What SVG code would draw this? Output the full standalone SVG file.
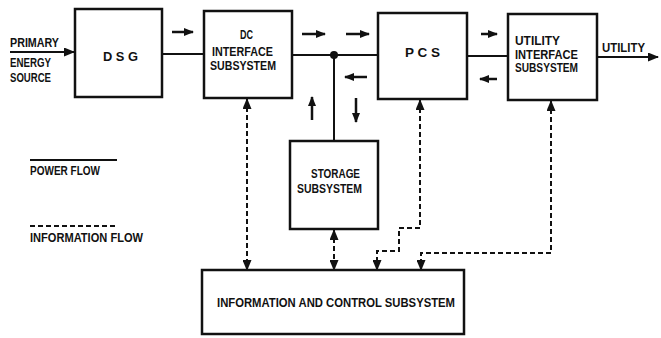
<svg xmlns="http://www.w3.org/2000/svg" width="661" height="338" viewBox="0 0 661 338">
<style>
.box{fill:#fff;stroke:#111;stroke-width:2.5}
.pw{fill:none;stroke:#111;stroke-width:2}
.sa{fill:none;stroke:#111;stroke-width:2.5}
.inf{fill:none;stroke:#111;stroke-width:2;stroke-dasharray:5 3}
text{font-family:"Liberation Sans",Arial,sans-serif;font-weight:bold;font-size:13.5px;fill:#111}
.sm{font-size:12.5px}
</style>
<defs>
<marker id="ah" markerUnits="userSpaceOnUse" markerWidth="11" markerHeight="9" refX="10" refY="4.5" orient="auto-start-reverse" viewBox="0 0 11 9">
<path d="M0,0 L11,4.5 L0,9 z" fill="#111"/>
</marker>
<marker id="sh" markerUnits="userSpaceOnUse" markerWidth="10" markerHeight="8" refX="9" refY="4" orient="auto" viewBox="0 0 10 8">
<path d="M0,0 L10,4 L0,8 z" fill="#111"/>
</marker>
</defs>
<rect width="661" height="338" fill="#fff"/>

<g id="connectors">
<line class="pw" x1="10" y1="52" x2="74" y2="52" marker-end="url(#ah)"/>
<line class="pw" x1="162" y1="54" x2="204" y2="54"/>
<line class="pw" x1="292" y1="55" x2="378" y2="55"/>
<line class="pw" x1="334" y1="55" x2="334" y2="141"/>
<circle cx="334" cy="55" r="4" fill="#111"/>
<line class="pw" x1="467" y1="56" x2="508" y2="56"/>
<line class="pw" x1="597" y1="57" x2="658" y2="57" marker-end="url(#ah)"/>

<line class="sa" x1="172" y1="32" x2="193" y2="32" marker-end="url(#sh)"/>
<line class="sa" x1="302" y1="34" x2="325" y2="34" marker-end="url(#sh)"/>
<line class="sa" x1="346" y1="34" x2="369" y2="34" marker-end="url(#sh)"/>
<line class="sa" x1="367" y1="77" x2="345" y2="77" marker-end="url(#sh)"/>
<line class="sa" x1="312" y1="120" x2="312" y2="97" marker-end="url(#sh)"/>
<line class="sa" x1="356" y1="98" x2="356" y2="122" marker-end="url(#sh)"/>
<line class="sa" x1="481" y1="34" x2="497" y2="34" marker-end="url(#sh)"/>
<line class="sa" x1="497" y1="79" x2="480" y2="79" marker-end="url(#sh)"/>

<line class="inf" x1="247" y1="99" x2="247" y2="270" marker-start="url(#ah)" marker-end="url(#ah)"/>
<line class="inf" x1="334" y1="230" x2="334" y2="270" marker-start="url(#ah)" marker-end="url(#ah)"/>
<path class="inf" d="M420,100 V228 H399 V251 H377 V270" marker-start="url(#ah)" marker-end="url(#ah)"/>
<path class="inf" d="M551,101 V253 H421 V270" marker-start="url(#ah)" marker-end="url(#ah)"/>
</g>

<g id="input-label">
<text x="10" y="47" textLength="49" lengthAdjust="spacingAndGlyphs">PRIMARY</text>
<text x="10" y="67" textLength="41" lengthAdjust="spacingAndGlyphs">ENERGY</text>
<text x="10" y="81.5" textLength="41" lengthAdjust="spacingAndGlyphs">SOURCE</text>
</g>

<g id="dsg">
<rect class="box" x="75" y="9" width="87" height="88"/>
<text class="sm" x="103" y="61" textLength="35" lengthAdjust="spacingAndGlyphs">D S G</text>
</g>

<g id="dc-interface">
<rect class="box" x="204" y="11" width="88" height="87"/>
<text x="240" y="38.5" textLength="13" lengthAdjust="spacingAndGlyphs">DC</text>
<text x="212" y="56" textLength="61" lengthAdjust="spacingAndGlyphs">INTERFACE</text>
<text x="210" y="70" textLength="66" lengthAdjust="spacingAndGlyphs">SUBSYSTEM</text>
</g>

<g id="pcs">
<rect class="box" x="378" y="13" width="89" height="86"/>
<text class="sm" x="405" y="57" textLength="35" lengthAdjust="spacingAndGlyphs">P C S</text>
</g>

<g id="utility-interface">
<rect class="box" x="508" y="14" width="89" height="86"/>
<text x="515" y="45" textLength="45" lengthAdjust="spacingAndGlyphs">UTILITY</text>
<text x="515" y="58.5" textLength="63" lengthAdjust="spacingAndGlyphs">INTERFACE</text>
<text x="515" y="72" textLength="63" lengthAdjust="spacingAndGlyphs">SUBSYSTEM</text>
</g>

<g id="utility-label">
<text x="602" y="52" textLength="43" lengthAdjust="spacingAndGlyphs">UTILITY</text>
</g>

<g id="storage">
<rect class="box" x="290" y="141" width="88" height="88"/>
<text x="311" y="178" textLength="49" lengthAdjust="spacingAndGlyphs">STORAGE</text>
<text x="297" y="193" textLength="65" lengthAdjust="spacingAndGlyphs">SUBSYSTEM</text>
</g>

<g id="info-control">
<rect class="box" x="202" y="270" width="262" height="64"/>
<text x="217" y="307" textLength="238" lengthAdjust="spacingAndGlyphs">INFORMATION AND CONTROL SUBSYSTEM</text>
</g>

<g id="legend">
<line class="pw" x1="30" y1="160" x2="117" y2="160"/>
<text x="30" y="175" textLength="70" lengthAdjust="spacingAndGlyphs">POWER FLOW</text>
<line class="inf" x1="30" y1="226" x2="117" y2="226"/>
<text x="30" y="242" textLength="113" lengthAdjust="spacingAndGlyphs">INFORMATION FLOW</text>
</g>
</svg>
